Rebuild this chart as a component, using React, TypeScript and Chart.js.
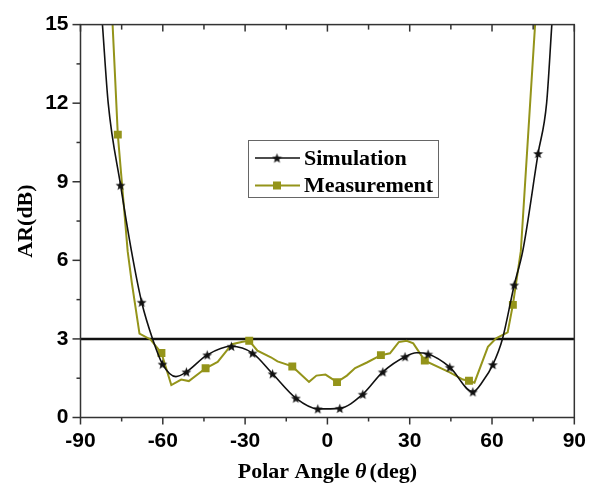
import React, { useEffect, useRef } from 'react';
import { Chart, registerables } from 'chart.js';

Chart.register(...registerables);

// ---- Data ----
const xTickValues = [-90, -60, -30, 0, 30, 60, 90];
const yTickValues = [0, 3, 6, 9, 12, 15];

const simAngle = [-82, -79.9, -75.4, -71.4, -67.7, -63.6, -60.1, -55.2, -51.4, -43.8, -35, -27.3, -20, -11.5, -3.5, 4.5, 12.9, 20.2, 28.3, 32.5, 36.7, 44.6, 53.0, 56.7, 60.3, 63.8, 68.1, 71.2, 76.8, 79.9, 81.8];
const simAR = [15, 12, 8.87, 6.34, 4.4, 2.96, 2.04, 1.56, 1.74, 2.39, 2.72, 2.46, 1.67, 0.74, 0.33, 0.35, 0.89, 1.74, 2.32, 2.47, 2.42, 1.92, 0.98, 1.39, 2.02, 3.0, 5.06, 6.35, 10.08, 12, 15];
const simHasMarker = [false, false, true, false, true, false, true, false, true, true, true, true, true, true, true, true, true, true, true, false, true, true, true, false, true, false, true, false, true, false, false];

const measAngle = [-78.3, -76.4, -72.8, -71.3, -68.5, -64.5, -60.5, -56.9, -53.3, -50.5, -44.4, -40, -34.8, -30.9, -28.5, -25.5, -20.6, -18.2, -12.8, -6.7, -4.0, -0.7, 3.5, 7.1, 10.1, 14.4, 19.5, 22.8, 26.0, 28.9, 31.3, 35.5, 44.6, 49.4, 51.6, 53.6, 58.5, 61.5, 65.7, 67.6, 70.5, 75.7];
const measAR = [15, 10.8, 6.34, 5.15, 3.2, 2.98, 2.46, 1.24, 1.45, 1.39, 1.88, 2.12, 2.8, 2.89, 2.93, 2.55, 2.3, 2.14, 1.95, 1.36, 1.6, 1.64, 1.35, 1.6, 1.89, 2.1, 2.38, 2.45, 2.88, 2.93, 2.83, 2.17, 1.72, 1.45, 1.4, 1.33, 2.7, 3.02, 3.25, 4.3, 6.35, 15];
const measHasMarker = [false, true, false, false, false, false, true, false, false, false, true, false, false, false, true, false, false, false, true, false, false, false, true, false, false, false, true, false, false, false, false, true, false, false, true, false, false, false, false, true, false, false];

const thresholdAR = 3;
const seriesLabels = ['Simulation', 'Measurement'];

// ---- Styles ----
const BLACK = '#111111';
const OLIVE = '#94941a';
const SANS = "'Liberation Sans', Arial, sans-serif";
const SERIF = "'Liberation Serif', 'Times New Roman', serif";

let starImg: HTMLCanvasElement | null = null;
function getStar() {
  if (starImg) return starImg;
  const size = 11;
  const c = document.createElement('canvas');
  c.width = size;
  c.height = size;
  const g = c.getContext('2d')!;
  const cx = size / 2, cy = size / 2 + 0.5;
  const R = size / 2 - 0.3, r = R * 0.42;
  g.beginPath();
  for (let i = 0; i < 10; i++) {
    const ang = -Math.PI / 2 + (i * Math.PI) / 5;
    const rad = i % 2 === 0 ? R : r;
    g.lineTo(cx + rad * Math.cos(ang), cy + rad * Math.sin(ang));
  }
  g.closePath();
  g.fillStyle = BLACK;
  g.fill();
  starImg = c;
  return c;
}

const decorPlugin = {
  id: 'decor',
  afterDraw(chart: any) {
    const { ctx, chartArea: a, scales } = chart;
    const xs = scales.x, ys = scales.y;
    const star = getStar();
    ctx.save();
    ctx.strokeStyle = '#333';
    ctx.lineWidth = 1.5;
    ctx.strokeRect(a.left, a.top, a.right - a.left, a.bottom - a.top);
    const seg = (x1: number, y1: number, x2: number, y2: number) => {
      ctx.beginPath();
      ctx.moveTo(x1, y1);
      ctx.lineTo(x2, y2);
      ctx.stroke();
    };
    for (let i = 0; i < xTickValues.length; i++) {
      const v = xTickValues[i];
      const px = xs.getPixelForValue(v);
      seg(px, a.bottom, px, a.bottom + 7);
      seg(px, a.top, px, a.top + 7);
      if (i < xTickValues.length - 1) {
        const m = xs.getPixelForValue((v + xTickValues[i + 1]) / 2);
        seg(m, a.bottom, m, a.bottom + 4);
        seg(m, a.top, m, a.top + 5);
      }
    }
    for (let i = 0; i < yTickValues.length; i++) {
      const v = yTickValues[i];
      const py = ys.getPixelForValue(v);
      seg(a.left - 8, py, a.left, py);
      if (i < yTickValues.length - 1) {
        const m = ys.getPixelForValue((v + yTickValues[i + 1]) / 2);
        seg(a.left - 4, m, a.left, m);
      }
    }

    const cx = (a.left + a.right) / 2;
    const ty = 472;
    const parts = [
      { t: 'Polar Angle ', f: `bold 22px ${SERIF}` },
      { t: 'θ', f: `italic bold 22px ${SERIF}` },
      { t: '(deg)', f: `bold 22px ${SERIF}` },
    ];
    let total = 0;
    const widths = parts.map((p) => {
      ctx.font = p.f;
      const w = ctx.measureText(p.t).width + (p.t === 'θ' ? 3 : 0);
      total += w;
      return w;
    });
    let x0 = cx - total / 2;
    ctx.fillStyle = '#000';
    ctx.textBaseline = 'middle';
    ctx.textAlign = 'left';
    parts.forEach((p, i) => {
      ctx.font = p.f;
      ctx.fillText(p.t, x0, ty);
      x0 += widths[i];
    });

    const lx = 248, ly = 140, lw = 190, lh = 57;
    ctx.fillStyle = '#fff';
    ctx.fillRect(lx, ly, lw, lh);
    ctx.strokeStyle = '#666';
    ctx.lineWidth = 1;
    ctx.strokeRect(lx + 0.5, ly + 0.5, lw, lh);
    const rows = [
      { label: seriesLabels[0], color: BLACK, y: 158, marker: 'star' },
      { label: seriesLabels[1], color: OLIVE, y: 185.5, marker: 'rect' },
    ];
    rows.forEach((r) => {
      ctx.strokeStyle = r.color;
      ctx.lineWidth = r.marker === 'star' ? 1.6 : 2;
      seg(255, r.y, 300, r.y);
      if (r.marker === 'star') {
        ctx.drawImage(star, 277 - star.width / 2, r.y - star.height / 2);
      } else {
        ctx.fillStyle = r.color;
        ctx.fillRect(273, r.y - 4, 8, 8);
      }
      ctx.fillStyle = '#000';
      ctx.font = `bold 22px ${SERIF}`;
      ctx.textBaseline = 'middle';
      ctx.fillText(r.label, 304, r.y + 1);
    });
    ctx.restore();
  },
};

export default function App() {
  const ref = useRef<HTMLCanvasElement>(null);
  useEffect(() => {
    document.body.style.margin = '0';
    const star = getStar();
    const chart = new Chart(ref.current!, {
      type: 'line',
      data: {
        datasets: [
          {
            label: seriesLabels[0],
            data: simAngle.map((x, i) => ({ x, y: simAR[i] })),
            borderColor: BLACK,
            borderWidth: 1.6,
            cubicInterpolationMode: 'monotone',
            pointStyle: star as any,
            pointRadius: (c: any) => (simHasMarker[c.dataIndex] ? 5 : 0),
            pointHoverRadius: 0,
            fill: false,
          },
          {
            label: seriesLabels[1],
            data: measAngle.map((x, i) => ({ x, y: measAR[i] })),
            borderColor: OLIVE,
            backgroundColor: OLIVE,
            borderWidth: 2,
            tension: 0,
            pointStyle: 'rect',
            pointRadius: (c: any) => (measHasMarker[c.dataIndex] ? 5.6 : 0),
            pointBorderWidth: 0,
            pointHoverRadius: 0,
            fill: false,
          },
          {
            label: '3 dB',
            data: [
              { x: xTickValues[0], y: thresholdAR },
              { x: xTickValues[xTickValues.length - 1], y: thresholdAR },
            ],
            borderColor: BLACK,
            borderWidth: 2.5,
            pointRadius: 0,
            fill: false,
          },
        ],
      },
      options: {
        responsive: false,
        animation: false,
        events: [],
        layout: { padding: { top: 18, right: 19.5, left: 0, bottom: 0 } },
        plugins: { legend: { display: false }, tooltip: { enabled: false } },
        scales: {
          x: {
            type: 'linear',
            min: -90,
            max: 90,
            afterBuildTicks: (s: any) => {
              s.ticks = xTickValues.map((v) => ({ value: v }));
            },
            ticks: {
              font: { family: SANS, size: 21, weight: 'bold' },
              color: '#000',
              padding: 11,
              maxRotation: 0,
              autoSkip: false,
            },
            grid: { display: false, drawTicks: false },
            border: { display: false },
            afterFit: (s: any) => {
              s.height = 68.5;
            },
          },
          y: {
            type: 'linear',
            min: 0,
            max: 15,
            afterBuildTicks: (s: any) => {
              s.ticks = yTickValues.map((v) => ({ value: v }));
            },
            ticks: {
              font: { family: SANS, size: 21, weight: 'bold' },
              color: '#000',
              padding: 12,
            },
            grid: { display: false, drawTicks: false },
            border: { display: false },
            title: {
              display: true,
              text: 'AR(dB)',
              font: { family: SERIF, size: 22, weight: 'bold' },
              color: '#000',
              padding: { top: 13, bottom: 0 },
            },
            afterFit: (s: any) => {
              s.width = 80.5;
            },
          },
        },
      },
      plugins: [decorPlugin],
    } as any);
    return () => chart.destroy();
  }, []);
  return (
    <div style={{ width: 597, height: 486 }}>
      <canvas ref={ref} width={597} height={486} style={{ display: 'block' }} />
    </div>
  );
}
